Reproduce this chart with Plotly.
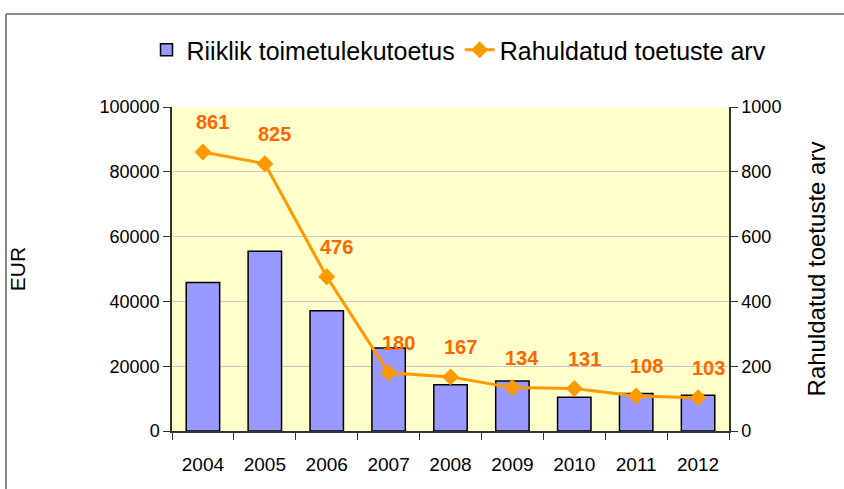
import plotly.graph_objects as go

years = ["2004", "2005", "2006", "2007", "2008", "2009", "2010", "2011", "2012"]
toetus_eur = [45800, 55500, 37100, 25600, 14300, 15400, 10400, 11600, 11000]
toetuste_arv = [861, 825, 476, 180, 167, 134, 131, 108, 103]

FONT = "Liberation Sans, Arial, sans-serif"
idx = list(range(len(years)))

fig = go.Figure()
fig.add_trace(go.Bar(
    x=idx, y=toetus_eur, name="Riiklik toimetulekutoetus",
    marker=dict(color="#9999FF", line=dict(color="#000000", width=1.5)),
))
fig.add_trace(go.Scatter(
    x=idx, y=toetuste_arv, name="Rahuldatud toetuste arv", yaxis="y2",
    mode="lines+markers",
    line=dict(color="#FF9900", width=3),
    marker=dict(symbol="diamond", size=13, color="#FF9900"),
))

for i, v in zip(idx, toetuste_arv):
    fig.add_annotation(
        x=i, y=v, xref="x", yref="y2", text=f"<b>{v}</b>", showarrow=False,
        yshift=30, xshift=10, font=dict(family=FONT, size=20, color="#FF6600"),
    )

W, H = 844, 489
T, B = 107, 58
PL, PR = 172, 729
ph = H - T - B
def fx(x):
    return x / W
def fy(y):
    return (H - B - y) / ph

fig.add_shape(type="line", xref="paper", yref="paper", x0=fx(6), x1=fx(844), y0=fy(14), y1=fy(14),
              line=dict(color="#888888", width=2))
fig.add_shape(type="line", xref="paper", yref="paper", x0=fx(6), x1=fx(6), y0=fy(14), y1=fy(489),
              line=dict(color="#888888", width=2))

fig.update_layout(
    width=W, height=H,
    margin=dict(l=0, r=0, t=T, b=B, autoexpand=False),
    paper_bgcolor="white", plot_bgcolor="#FFFFCC",
    font=dict(family=FONT, size=18, color="#000000"),
    bargap=0.46,
    showlegend=True,
    legend=dict(orientation="h", x=fx(459), xanchor="center", y=fy(50), yanchor="middle",
                font=dict(size=25), bgcolor="rgba(0,0,0,0)", tracegroupgap=0),
    xaxis=dict(domain=[fx(PL), fx(PR)], range=[-0.5, len(years) - 0.5], tickmode="array",
               tickvals=idx, ticktext=years,
               showline=True, linecolor="#333333", linewidth=1.5, ticks="",
               tickfont=dict(size=19), showgrid=False, zeroline=False, tickangle=0,
               automargin=False, ticklabelstandoff=15,
               minor=dict(ticks="outside", tick0=-0.5, dtick=1, ticklen=7,
                          tickcolor="#333333", tickwidth=1.2, showgrid=False)),
    yaxis=dict(range=[0, 100000], dtick=20000, tickformat="d", showline=True,
               linecolor="#333333", linewidth=1.5, ticks="outside", ticklen=7,
               tickcolor="#333333", tickwidth=1.2, showgrid=True, gridcolor="#C8C8C8",
               gridwidth=1, zeroline=False, tickfont=dict(size=18), automargin=False,
               title=dict(text="EUR", font=dict(size=21), standoff=68)),
    yaxis2=dict(range=[0, 1000], dtick=200, overlaying="y", side="right", anchor="x",
                showline=True,
                linecolor="#333333", linewidth=1.5, ticks="outside", ticklen=7,
                tickcolor="#333333", tickwidth=1.2, showgrid=False, zeroline=False,
                tickfont=dict(size=18), automargin=False,
                title=dict(text="Rahuldatud toetuste arv", font=dict(size=24), standoff=28)),
)

fig.write_html("out.html", post_script="document.body.style.margin='0px';",
               config={"displayModeBar": False})
